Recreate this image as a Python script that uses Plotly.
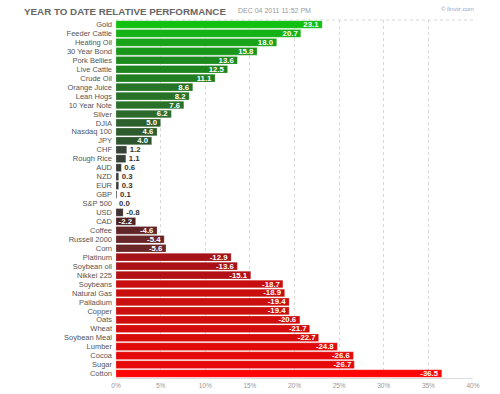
import plotly.graph_objects as go

categories = ["Gold", "Feeder Cattle", "Heating Oil", "30 Year Bond", "Pork Bellies",
              "Live Cattle", "Crude Oil", "Orange Juice", "Lean Hogs", "10 Year Note",
              "Silver", "DJIA", "Nasdaq 100", "JPY", "CHF", "Rough Rice", "AUD", "NZD",
              "EUR", "GBP", "S&P 500", "USD", "CAD", "Coffee", "Russell 2000", "Corn",
              "Platinum", "Soybean oil", "Nikkei 225", "Soybeans", "Natural Gas",
              "Palladium", "Copper", "Oats", "Wheat", "Soybean Meal", "Lumber", "Cocoa",
              "Sugar", "Cotton"]
values = [23.1, 20.7, 18.0, 15.8, 13.6, 12.5, 11.1, 8.6, 8.2, 7.6, 6.2, 5.0, 4.6, 4.0,
          1.2, 1.1, 0.6, 0.3, 0.3, 0.1, 0.0, -0.8, -2.2, -4.6, -5.4, -5.6, -12.9, -13.6,
          -15.1, -18.7, -18.9, -19.4, -19.4, -20.6, -21.7, -22.7, -24.8, -26.6, -26.7, -36.5]
tick_vals = [0, 5, 10, 15, 20, 25, 30, 35, 40]
tick_text = ["0%", "5%", "10%", "15%", "20%", "25%", "30%", "35%", "40%"]

pos_stops = [(0, (58, 58, 58)), (4, (46, 85, 46)), (6.2, (44, 106, 44)),
             (12.5, (30, 132, 30)), (23.1, (18, 192, 18)), (40, (10, 230, 10))]
neg_stops = [(0, (58, 58, 58)), (2.2, (75, 35, 35)), (5.6, (107, 38, 40)),
             (12.9, (165, 18, 24)), (15.1, (178, 16, 20)), (18.7, (200, 14, 14)),
             (24.8, (225, 10, 10)), (36.5, (255, 6, 6)), (60, (255, 0, 0))]


def interp(stops, a):
    for (x0, c0), (x1, c1) in zip(stops[:-1], stops[1:]):
        if a <= x1:
            t = (a - x0) / (x1 - x0) if x1 > x0 else 0
            return "rgb(%d,%d,%d)" % tuple(round(c0[i] + (c1[i] - c0[i]) * t) for i in range(3))
    return "rgb(%d,%d,%d)" % stops[-1][1]


colors = [interp(pos_stops, v) if v >= 0 else interp(neg_stops, -v) for v in values]
lengths = [abs(v) for v in values]
texts = ["%.1f" % v for v in values]
positions = ["inside" if abs(v) >= 2 else "outside" for v in values]

W, H = 500, 394
L, R, T, B = 116, 27, 20, 16
PW = W - L - R

fig = go.Figure(go.Bar(
    y=categories, x=lengths, orientation="h",
    marker=dict(color=colors, line=dict(color="rgba(255,255,255,0.35)", width=0.6)),
    text=texts, textposition=positions, insidetextanchor="end",
    insidetextfont=dict(color="white", size=7.8, family="Liberation Sans"),
    outsidetextfont=dict(color="#333333", size=7.8, family="Liberation Sans"),
    texttemplate="<b>%{text}</b>", cliponaxis=False,
    hoverinfo="skip",
))

fig.update_layout(
    width=W, height=H,
    margin=dict(l=L, r=R, t=T, b=B, autoexpand=False),
    paper_bgcolor="white", plot_bgcolor="white",
    bargap=0.14, showlegend=False,
    uniformtext=dict(mode="show", minsize=7.8),
    font=dict(family="Liberation Sans", color="#555555"),
    xaxis=dict(range=[0, 40], tickvals=tick_vals, ticktext=tick_text,
               tickfont=dict(size=6.5, color="#999999"), automargin=False,
               showgrid=True, gridcolor="#d8d8d8", griddash="dot", gridwidth=1,
               zeroline=False, showline=True, linecolor="#dddddd", mirror=False,
               ticks="", ticklabelstandoff=1, fixedrange=True),
    yaxis=dict(autorange="reversed", tickmode="array", tickvals=categories,
               tickfont=dict(size=7.5, color="#555555"), automargin=False,
               ticks="", ticklabelstandoff=3, showgrid=False, zeroline=False,
               showline=False, fixedrange=True),
    shapes=[dict(type="line", xref="paper", yref="paper", x0=0, x1=1, y0=1, y1=1,
                 line=dict(color="#d8d8d8", width=1, dash="dot"))],
    annotations=[
        dict(text="<b>YEAR TO DATE RELATIVE PERFORMANCE</b>", xref="paper", yref="paper",
             x=(22 - 116) / PW, y=1, yshift=9, xanchor="left", yanchor="middle",
             showarrow=False, font=dict(size=9.8, color="#666666", family="Liberation Sans")),
        dict(text="DEC 04 2011 11:52 PM", xref="paper", yref="paper",
             x=(236 - 116) / PW, y=1, yshift=10, xanchor="left", yanchor="middle",
             showarrow=False, font=dict(size=7, color="#9a9a9a", family="Liberation Sans")),
        dict(text="© finviz.com", xref="paper", yref="paper",
             x=(476 - 116) / PW, y=1, yshift=11, xanchor="right", yanchor="middle",
             showarrow=False, font=dict(size=6, color="#8aa6c8", family="Liberation Sans")),
    ],
)

fig.write_html("out.html", config={"displayModeBar": False, "staticPlot": True},
               post_script="document.body.style.margin='0px';")
